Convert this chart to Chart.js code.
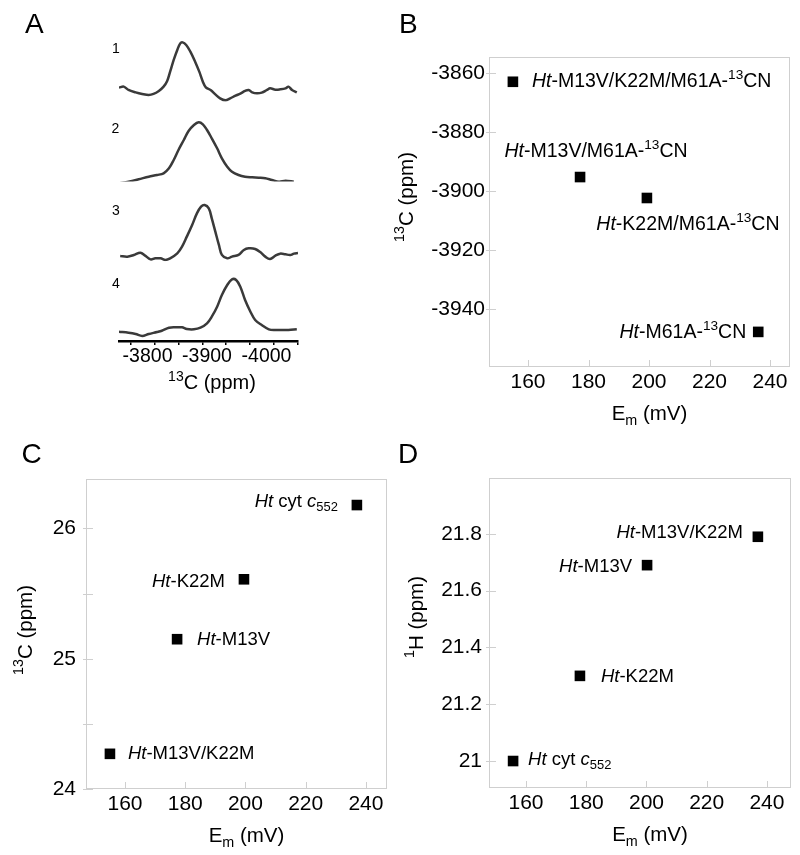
<!DOCTYPE html>
<html>
<head>
<meta charset="utf-8">
<script src="https://cdn.jsdelivr.net/npm/chart.js@4.4.1/dist/chart.umd.min.js"></script>
<style>
  html, body { margin: 0; padding: 0; background: #fff; }
  #wrap { position: relative; width: 800px; height: 855px; overflow: hidden; }
  canvas { position: absolute; }
</style>
</head>
<body>
<div id="wrap">
  <canvas id="chartA" width="400" height="420" style="left:0;top:0"></canvas>
  <canvas id="chartB" width="420" height="430" style="left:380px;top:0"></canvas>
  <canvas id="chartC" width="400" height="435" style="left:0;top:420px"></canvas>
  <canvas id="chartD" width="420" height="435" style="left:380px;top:420px"></canvas>
</div>
<script>
const FONT = "'Liberation Sans', Arial, Helvetica, sans-serif";

// Panel A: 13C spectra 1-4 (ppm, intensity in arbitrary units)
const specPpm1 = [-3752, -3760, -3768, -3780, -3791, -3802, -3810, -3819, -3827, -3833, -3838, -3844, -3850, -3855, -3859, -3865, -3872, -3880, -3887, -3893, -3898, -3906, -3914, -3922, -3931, -3939, -3948, -3956, -3964, -3970, -3976, -3984, -3992, -4001, -4006, -4015, -4023, -4032, -4037, -4043, -4051];
const specInt1 = [14.1, 15.1, 11.8, 9.4, 7.8, 6.8, 7.8, 10.8, 15.1, 20.8, 30.1, 41.8, 51.8, 58.4, 59.4, 56.8, 50.1, 40.1, 30.1, 20.1, 14.4, 11.8, 7.4, 3.4, 1.4, 3.4, 6.1, 8.1, 10.8, 11.8, 9.4, 8.4, 9.1, 11.8, 13.4, 12.1, 12.4, 13.4, 15.1, 11.8, 9.4];
const specPpm2 = [-3753, -3768, -3785, -3802, -3816, -3827, -3836, -3844, -3852, -3861, -3869, -3878, -3886, -3893, -3900, -3908, -3917, -3925, -3934, -3942, -3953, -3964, -3976, -3987, -3998, -4009, -4021, -4032, -4046];
const specInt2 = [-1.8, -0.2, 2.2, 4.8, 6.5, 8.2, 13.2, 21.5, 31.5, 41.5, 50.5, 56.5, 59.2, 57.2, 51.5, 43.2, 33.2, 23.2, 14.8, 9.8, 6.5, 4.8, 4.2, 3.8, 3.2, 1.5, -0.2, 0.8, -0.2];
const specPpm3 = [-3754, -3766, -3777, -3788, -3796, -3805, -3813, -3822, -3830, -3838, -3850, -3858, -3866, -3875, -3883, -3890, -3896, -3903, -3908, -3914, -3920, -3925, -3934, -3942, -3953, -3962, -3970, -3981, -3990, -3998, -4006, -4015, -4023, -4032, -4040, -4046, -4053];
const specInt3 = [5.3, 4.6, 6.3, 8.6, 5.6, 1.9, 2.9, 2.9, 1.3, 2.9, 7.9, 14.6, 24.6, 36.3, 47.9, 54.6, 56.3, 52.9, 42.9, 29.6, 16.3, 6.3, 2.9, 4.6, 6.3, 11.3, 12.9, 12.3, 8.9, 4.6, 2.3, 5.6, 7.6, 6.9, 6.3, 7.6, 8.3];
const specPpm4 = [-3752, -3768, -3780, -3791, -3802, -3816, -3824, -3836, -3847, -3858, -3866, -3878, -3889, -3900, -3908, -3917, -3925, -3934, -3942, -3949, -3956, -3964, -3973, -3981, -3992, -4004, -4015, -4026, -4037, -4051];
const specInt4 = [9.3, 8.3, 7, 5, 7, 9, 10.3, 13.3, 13.7, 13.7, 12, 11.7, 13.3, 17.7, 24.3, 34.3, 46, 56, 61.7, 61, 54.3, 41, 29.3, 21, 16, 11.7, 11, 11, 11, 11.7];
const specTickVals = [-3772, -3812, -3852, -3892, -3932, -3972, -4012, -4052];
const specLabelVals = [-3800, -3900, -4000];
const specNames = ['1', '2', '3', '4'];

// ticks shared by B, C, D
const emTicks = [160, 180, 200, 220, 240];

// Panel B: Em (mV) vs 13C (ppm) of the -13CN variants
const bEm = [155, 177.2, 199.3, 236.1];
const bShift = [-3863, -3895.3, -3902.4, -3947.8];
const bTicks = [-3940, -3920, -3900, -3880, -3860];
const bNames = [
  [['Ht', 'i'], ['-M13V/K22M/M61A-', ''], ['13', 'sup'], ['CN', '']],
  [['Ht', 'i'], ['-M13V/M61A-', ''], ['13', 'sup'], ['CN', '']],
  [['Ht', 'i'], ['-K22M/M61A-', ''], ['13', 'sup'], ['CN', '']],
  [['Ht', 'i'], ['-M61A-', ''], ['13', 'sup'], ['CN', '']]
];

// Panel C: Em (mV) vs 13C (ppm)
const cEm = [237, 199.5, 177.3, 155];
const cShift = [26.18, 25.61, 25.15, 24.27];
const cTicks = [24, 24.5, 25, 25.5, 26];
const cNames = [
  [['Ht', 'i'], [' cyt ', ''], ['c', 'i'], ['552', 'sub']],
  [['Ht', 'i'], ['-K22M', '']],
  [['Ht', 'i'], ['-M13V', '']],
  [['Ht', 'i'], ['-M13V/K22M', '']]
];

// Panel D: Em (mV) vs 1H (ppm)
const dEm = [237, 200.2, 177.9, 155.7];
const dShift = [21.79, 21.69, 21.30, 21.00];
const dTicks = [21, 21.2, 21.4, 21.6, 21.8];
const dNames = [
  [['Ht', 'i'], ['-M13V/K22M', '']],
  [['Ht', 'i'], ['-M13V', '']],
  [['Ht', 'i'], ['-K22M', '']],
  [['Ht', 'i'], [' cyt ', ''], ['c', 'i'], ['552', 'sub']]
];

const emTitle = [['E', ''], ['m', 'sub'], [' (mV)', '']];
const c13Title = [['13', 'sup'], ['C (ppm)', '']];
const h1Title = [['1', 'sup'], ['H (ppm)', '']];

// texto con cursiva / superíndice / subíndice
function runFont(style, size) {
  const small = style === 'sup' || style === 'sub';
  return (style === 'i' ? 'italic ' : '') + (small ? size * 0.7 : size) + 'px ' + FONT;
}
function drawRuns(ctx, runs, x, y, align, size) {
  let w = 0;
  runs.forEach(([t, st]) => { ctx.font = runFont(st, size); w += ctx.measureText(t).width; });
  let cx = align === 'right' ? x - w : align === 'center' ? x - w / 2 : x;
  ctx.textAlign = 'left';
  ctx.textBaseline = 'alphabetic';
  runs.forEach(([t, st]) => {
    ctx.font = runFont(st, size);
    const dy = st === 'sup' ? -size * 0.42 : st === 'sub' ? size * 0.22 : 0;
    ctx.fillText(t, cx, y + dy);
    cx += ctx.measureText(t).width;
  });
}

const fixTicks = vals => s => { s.ticks = vals.map(v => ({ value: v })); };

function richText(o) {
  return {
    id: 'richText',
    beforeDatasetsDraw(chart) {
      if (!o.frame) return;
      const ctx = chart.ctx, a = chart.chartArea;
      const sx = chart.scales.x, sy = chart.scales.y;
      ctx.save();
      ctx.strokeStyle = '#cfcfcf';
      ctx.lineWidth = 1;
      ctx.strokeRect(a.left + 0.5, a.top + 0.5, a.right - a.left - 1, a.bottom - a.top - 1);
      ctx.beginPath();
      sx.ticks.forEach(t => {
        const p = Math.round(sx.getPixelForValue(t.value)) + 0.5;
        ctx.moveTo(p, a.bottom); ctx.lineTo(p, a.bottom - 7);
      });
      sy.ticks.forEach(t => {
        const p = Math.round(sy.getPixelForValue(t.value)) + 0.5;
        ctx.moveTo(a.left - 3, p); ctx.lineTo(a.left + 7, p);
      });
      ctx.stroke();
      ctx.restore();
    },
    afterDraw(chart) {
      const ctx = chart.ctx, a = chart.chartArea;
      ctx.save();
      ctx.fillStyle = '#000';
      if (o.names) {
        const meta = chart.getDatasetMeta(0);
        o.names.forEach((runs, i) => {
          const pt = meta.data[i], p = o.namePos[i];
          drawRuns(ctx, runs, pt.x + p.dx, pt.y + p.dy, p.align, o.nameSize);
        });
      }
      if (o.xTitle) {
        drawRuns(ctx, o.xTitle, (a.left + a.right) / 2 + o.xTitleDx, a.bottom + o.xTitleDy, 'center', o.titleSize);
      }
      if (o.yTitle) {
        ctx.save();
        ctx.translate(a.left - o.yTitleDx, (a.top + a.bottom) / 2 + o.yTitleDy);
        ctx.rotate(-Math.PI / 2);
        drawRuns(ctx, o.yTitle, 0, 0, 'center', o.titleSize);
        ctx.restore();
      }
      (o.texts || []).forEach(t => drawRuns(ctx, t.runs, t.x, t.y, t.align || 'left', t.size));
      ctx.restore();
    }
  };
}

// ---- Panel A ----
const traces = [[specPpm1, specInt1], [specPpm2, specInt2], [specPpm3, specInt3], [specPpm4, specInt4]];
const aMin = -4053, aMax = -3752;
const band = () => ({ type: 'linear', position: 'right', stack: 'spec', stackWeight: 1, min: 0, max: 79.75, display: false });

new Chart(document.getElementById('chartA'), {
  type: 'line',
  data: {
    datasets: traces.map((t, k) => ({
      data: t[0].map((p, i) => ({ x: p, y: t[1][i] })),
      yAxisID: 'y' + (k + 1),
      borderColor: '#3a3a3a',
      borderWidth: 2.5,
      pointRadius: 0,
      tension: 0.35,
      fill: false
    }))
  },
  options: {
    responsive: false,
    animation: false,
    events: [],
    devicePixelRatio: 1,
    layout: { padding: { left: 119, right: 102, top: 22, bottom: 35 } },
    plugins: { legend: { display: false }, tooltip: { enabled: false } },
    scales: {
      xt: {
        type: 'linear', position: 'bottom', reverse: true, min: aMin, max: aMax,
        afterBuildTicks: fixTicks(specTickVals),
        afterFit: s => { s.height = 4; },
        ticks: { display: false },
        grid: { drawOnChartArea: false, drawTicks: true, tickLength: 4, color: '#000', lineWidth: 1.5 },
        border: { display: true, color: '#000', width: 2.5 }
      },
      x: {
        type: 'linear', position: 'bottom', reverse: true, min: aMin, max: aMax,
        afterBuildTicks: fixTicks(specLabelVals),
        afterFit: s => { s.height = 40; },
        grid: { display: false, drawTicks: false },
        border: { display: false },
        ticks: {
          color: '#000', padding: 0,
          font: { family: FONT, size: 19.5 }, maxRotation: 0, autoSkip: false,
          callback: v => String(v)
        }
      },
      y1: band(), y2: band(), y3: band(), y4: band()
    }
  },
  plugins: [richText({
    xTitle: c13Title, xTitleDx: 3.5, xTitleDy: 48, titleSize: 20,
    texts: [
      { runs: [['A', '']], x: 25, y: 33, size: 28 },
      { runs: [[specNames[0], '']], x: 116, y: 53, align: 'center', size: 14 },
      { runs: [[specNames[1], '']], x: 115.5, y: 133, align: 'center', size: 14 },
      { runs: [[specNames[2], '']], x: 116, y: 215, align: 'center', size: 14 },
      { runs: [[specNames[3], '']], x: 116, y: 288, align: 'center', size: 14 }
    ]
  })]
});

// ---- Panels B, C, D ----
function scatter(id, o) {
  return new Chart(document.getElementById(id), {
    type: 'scatter',
    data: {
      datasets: [{
        data: o.xs.map((v, i) => ({ x: v, y: o.ys[i] })),
        pointStyle: 'rect',
        pointRadius: 7.5,
        pointBorderWidth: 0,
        backgroundColor: '#000',
        borderColor: '#000'
      }]
    },
    options: {
      responsive: false,
      animation: false,
      events: [],
      devicePixelRatio: 1,
      layout: { padding: o.pad },
      plugins: { legend: { display: false }, tooltip: { enabled: false } },
      scales: {
        x: {
          type: 'linear', min: o.xMin, max: o.xMax,
          afterBuildTicks: fixTicks(emTicks),
          afterFit: s => { s.height = 40; },
          grid: { display: false, drawTicks: false },
          border: { display: false },
          ticks: {
            color: '#000', padding: 3,
            font: { family: FONT, size: 21 }, maxRotation: 0, autoSkip: false
          }
        },
        y: {
          type: 'linear', min: o.yMin, max: o.yMax,
          afterBuildTicks: fixTicks(o.yTicks),
          afterFit: s => { s.width = 80; },
          grid: { display: false, drawTicks: false },
          border: { display: false },
          ticks: {
            color: '#000', padding: o.yPad,
            font: { family: FONT, size: 21 }, autoSkip: false, callback: o.yFmt
          }
        }
      }
    },
    plugins: [richText(o)]
  });
}

scatter('chartB', {
  xs: bEm, ys: bShift, xMin: 147.1, xMax: 246.6, yMin: -3959.7, yMax: -3854.6,
  yTicks: bTicks, yPad: 4, yFmt: v => String(v),
  pad: { left: 29, right: 10, top: 57, bottom: 23 },
  frame: true,
  names: bNames, nameSize: 19.5,
  namePos: [
    { dx: 19, dy: 5, align: 'left' },
    { dx: 16, dy: -20, align: 'center' },
    { dx: 41, dy: 32, align: 'center' },
    { dx: -12, dy: 6, align: 'right' }
  ],
  xTitle: emTitle, xTitleDx: 10, xTitleDy: 53,
  yTitle: c13Title, yTitleDx: 76, yTitleDy: -15, titleSize: 20.5,
  texts: [{ runs: [['B', '']], x: 19, y: 33, size: 28 }]
});

scatter('chartC', {
  xs: cEm, ys: cShift, xMin: 147.05, xMax: 247, yMin: 24, yMax: 26.38,
  yTicks: cTicks, yPad: 10,
  yFmt: v => Math.abs(v - Math.round(v)) < 1e-6 ? String(Math.round(v)) : '',
  pad: { left: 6, right: 13, top: 59, bottom: 26 },
  frame: true,
  names: cNames, nameSize: 18.5,
  namePos: [
    { dx: -19, dy: 2, align: 'right' },
    { dx: -19, dy: 8, align: 'right' },
    { dx: 20, dy: 6, align: 'left' },
    { dx: 18, dy: 5, align: 'left' }
  ],
  xTitle: emTitle, xTitleDx: 10, xTitleDy: 53,
  yTitle: c13Title, yTitleDx: 54, yTitleDy: -4, titleSize: 20.5,
  texts: [{ runs: [['C', '']], x: 21.5, y: 43, size: 28 }]
});

scatter('chartD', {
  xs: dEm, ys: dShift, xMin: 147.7, xMax: 248, yMin: 20.905, yMax: 21.997,
  yTicks: dTicks, yPad: 7, yFmt: v => String(Math.round(v * 10) / 10),
  pad: { left: 29, right: 9, top: 58, bottom: 27 },
  frame: true,
  names: dNames, nameSize: 18.5,
  namePos: [
    { dx: -15, dy: 1, align: 'right' },
    { dx: -15, dy: 7, align: 'right' },
    { dx: 21, dy: 6, align: 'left' },
    { dx: 15, dy: 4, align: 'left' }
  ],
  xTitle: emTitle, xTitleDx: 10, xTitleDy: 53,
  yTitle: h1Title, yTitleDx: 66, yTitleDy: -16, titleSize: 20.5,
  texts: [{ runs: [['D', '']], x: 18, y: 43, size: 28 }]
});
</script>
</body>
</html>
